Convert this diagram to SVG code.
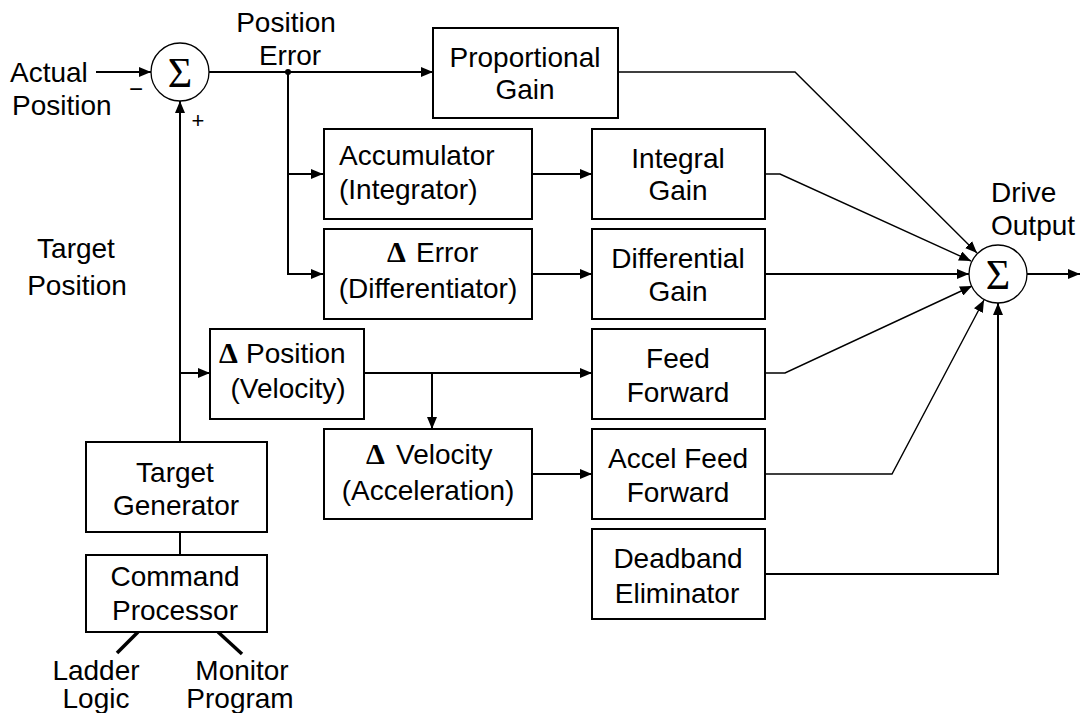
<svg xmlns="http://www.w3.org/2000/svg" width="1080" height="713" viewBox="0 0 1080 713">
<style>
text{font-family:"Liberation Sans",Arial,sans-serif;font-size:28px;fill:#000}
.c{text-anchor:middle}
.box{fill:#fff;stroke:#000;stroke-width:2}
.ln{fill:none;stroke:#000;stroke-width:2}
.dg{fill:none;stroke:#000;stroke-width:1.4}
.sum{fill:#fff;stroke:#000;stroke-width:1.3}
.sig{font-family:"Liberation Serif","Times New Roman",serif;font-size:42px;text-anchor:middle}
.d{font-family:"Liberation Serif","Times New Roman",serif;font-weight:bold;font-size:30px}
</style>
<defs>
<marker id="ah" markerWidth="12" markerHeight="10" refX="12" refY="5" orient="auto" markerUnits="userSpaceOnUse">
<path d="M0,0 L12,5 L0,10 z" fill="#000"/>
</marker>
</defs>
<rect width="1080" height="713" fill="#fff"/>

<g id="connectors">
<line class="ln" x1="96" y1="72" x2="151" y2="72" marker-end="url(#ah)"/>
<line class="ln" x1="180" y1="442" x2="180" y2="101" marker-end="url(#ah)"/>
<line class="ln" x1="209" y1="72" x2="433" y2="72" marker-end="url(#ah)"/>
<circle cx="288" cy="72" r="3" fill="#000"/>
<polyline class="ln" points="288,72 288,274 323,274" marker-end="url(#ah)"/>
<line class="ln" x1="288" y1="174" x2="323" y2="174" marker-end="url(#ah)"/>
<line class="ln" x1="532" y1="174" x2="592" y2="174" marker-end="url(#ah)"/>
<line class="ln" x1="532" y1="274" x2="592" y2="274" marker-end="url(#ah)"/>
<line class="ln" x1="180" y1="373" x2="210" y2="373" marker-end="url(#ah)"/>
<line class="ln" x1="364" y1="373" x2="592" y2="373" marker-end="url(#ah)"/>
<line class="ln" x1="432" y1="373" x2="432" y2="429" marker-end="url(#ah)"/>
<line class="ln" x1="532" y1="474" x2="592" y2="474" marker-end="url(#ah)"/>
<line class="ln" x1="180" y1="532" x2="180" y2="555"/>
<line x1="138" y1="632" x2="117" y2="653" stroke="#000" stroke-width="3.5"/>
<line x1="218" y1="632" x2="242" y2="654" stroke="#000" stroke-width="3.5"/>
<polyline class="dg" points="618,72 795,72 977,253" marker-end="url(#ah)"/>
<polyline class="dg" points="765,174 780,174 971,261" marker-end="url(#ah)"/>
<line class="ln" x1="765" y1="274" x2="969" y2="274" marker-end="url(#ah)"/>
<polyline class="dg" points="765,373 785,373 972,286" marker-end="url(#ah)"/>
<polyline class="dg" points="765,474 892,474 984,300" marker-end="url(#ah)"/>
<polyline class="ln" points="765,574 998,574 998,303" marker-end="url(#ah)"/>
<line class="ln" x1="1027" y1="274" x2="1080" y2="274" marker-end="url(#ah)"/>
</g>

<g id="actual-position"><text x="10" y="82">Actual</text><text x="12" y="115">Position</text></g>
<g id="sum1">
<circle class="sum" cx="180" cy="72" r="29"/>
<text class="sig" x="180" y="87">Σ</text>
<text x="136" y="97" class="c" style="font-size:24px">−</text>
<text x="198" y="128" class="c" style="font-size:22px">+</text>
</g>
<g id="position-error"><text class="c" x="286" y="32">Position</text><text class="c" x="290" y="65">Error</text></g>
<g id="target-position"><text class="c" x="76" y="258">Target</text><text class="c" x="77" y="295">Position</text></g>

<g id="proportional"><rect class="box" x="433" y="28" width="185" height="90"/><text class="c" x="525" y="67">Proportional</text><text class="c" x="525" y="99">Gain</text></g>
<g id="accumulator"><rect class="box" x="324" y="129" width="208" height="90"/><text x="339" y="165">Accumulator</text><text x="339" y="199">(Integrator)</text></g>
<g id="integral"><rect class="box" x="592" y="129" width="173" height="90"/><text class="c" x="678" y="168">Integral</text><text class="c" x="678" y="200">Gain</text></g>
<g id="delta-error"><rect class="box" x="324" y="229" width="208" height="90"/><text class="d" x="387" y="262">Δ</text><text x="416" y="262">Error</text><text class="c" x="428" y="298">(Differentiator)</text></g>
<g id="differential"><rect class="box" x="592" y="229" width="173" height="90"/><text class="c" x="678" y="268">Differential</text><text class="c" x="678" y="301">Gain</text></g>
<g id="delta-position"><rect class="box" x="210" y="329" width="154" height="90"/><text class="d" x="219" y="363">Δ</text><text x="246" y="363">Position</text><text class="c" x="288" y="398">(Velocity)</text></g>
<g id="feed-forward"><rect class="box" x="592" y="329" width="173" height="90"/><text class="c" x="678" y="368">Feed</text><text class="c" x="678" y="402">Forward</text></g>
<g id="delta-velocity"><rect class="box" x="324" y="429" width="208" height="90"/><text class="d" x="366" y="464">Δ</text><text x="396" y="464">Velocity</text><text class="c" x="428" y="500">(Acceleration)</text></g>
<g id="accel-feed-forward"><rect class="box" x="592" y="429" width="173" height="90"/><text class="c" x="678" y="468">Accel Feed</text><text class="c" x="678" y="502">Forward</text></g>
<g id="deadband"><rect class="box" x="592" y="529" width="173" height="90"/><text class="c" x="678" y="568">Deadband</text><text class="c" x="677" y="603">Eliminator</text></g>
<g id="target-generator"><rect class="box" x="86" y="442" width="181" height="90"/><text class="c" x="175" y="482">Target</text><text class="c" x="176" y="515">Generator</text></g>
<g id="command-processor"><rect class="box" x="86" y="555" width="181" height="77"/><text class="c" x="175" y="586">Command</text><text class="c" x="175" y="620">Processor</text></g>
<g id="ladder-logic"><text class="c" x="96" y="680">Ladder</text><text class="c" x="96" y="708">Logic</text></g>
<g id="monitor-program"><text class="c" x="242" y="680">Monitor</text><text class="c" x="240" y="708">Program</text></g>
<g id="sum2">
<circle class="sum" cx="998" cy="274" r="29"/>
<text class="sig" x="998" y="289">Σ</text>
</g>
<g id="drive-output"><text x="991" y="202">Drive</text><text x="991" y="235">Output</text></g>
</svg>
